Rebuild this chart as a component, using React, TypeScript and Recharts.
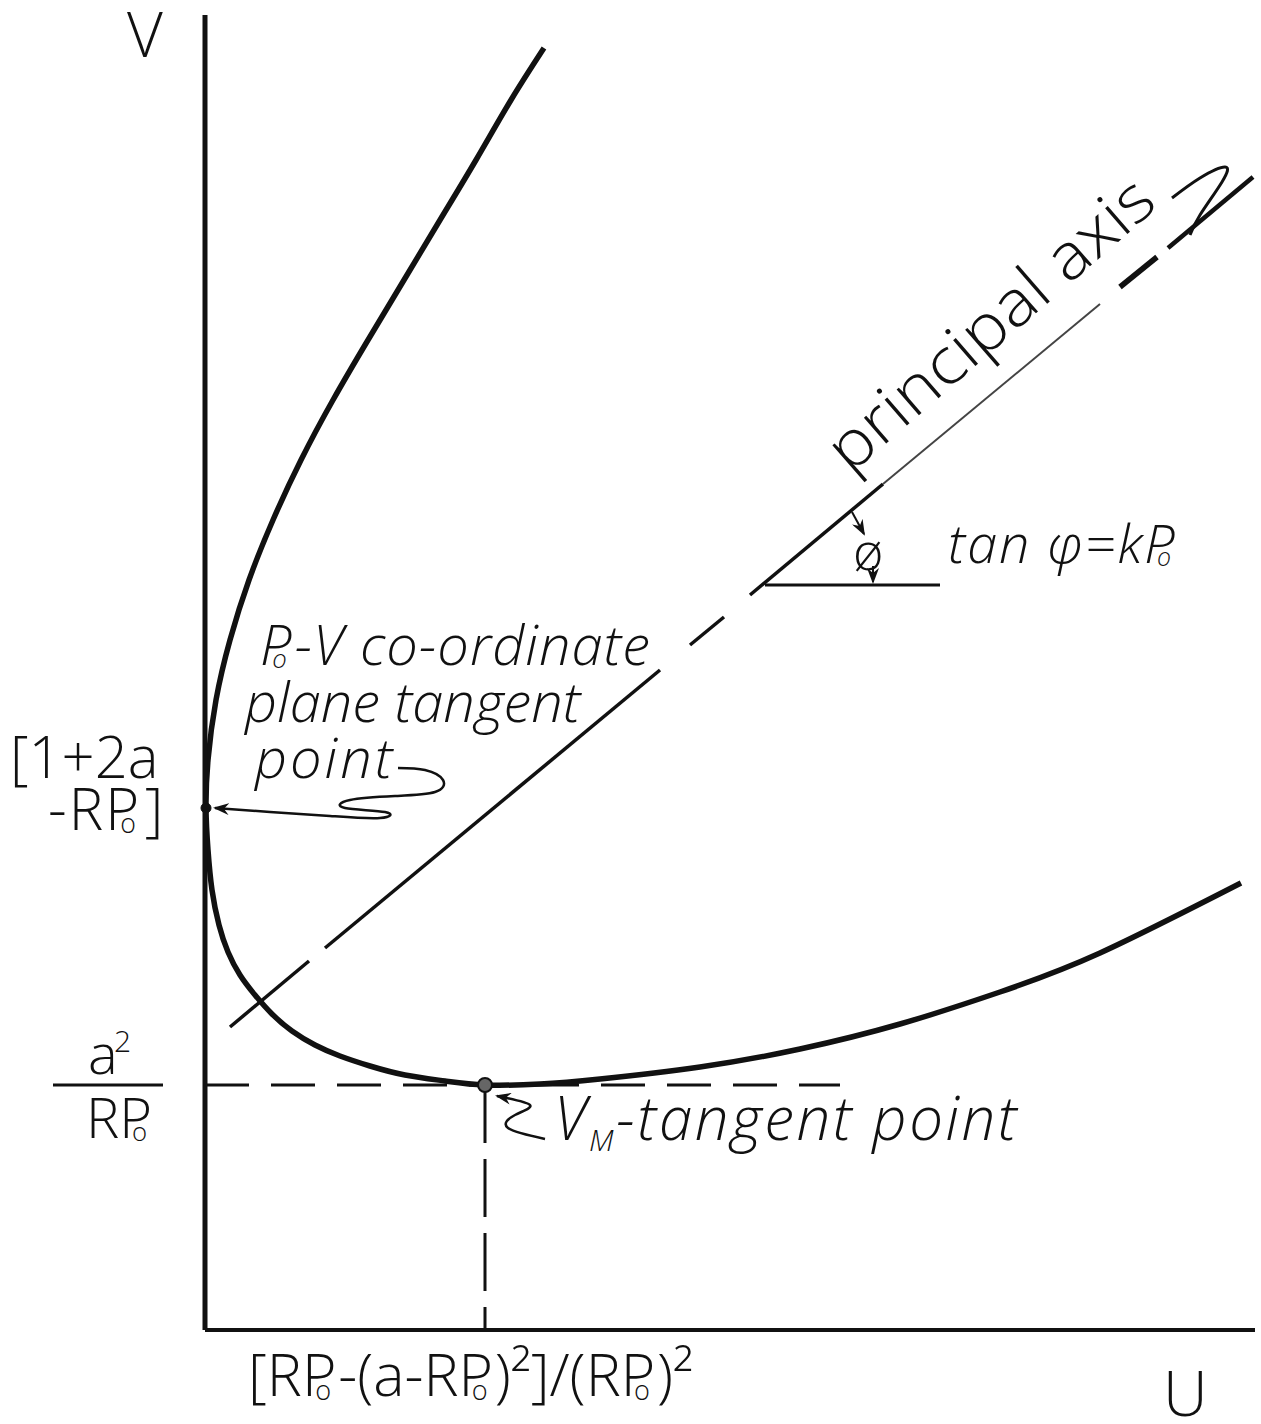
import { ComposedChart, Line, XAxis, YAxis, ReferenceDot } from 'recharts';

// plot units: U along the bottom, V up the side
const U_MAX = 10.5;
const V_MAX = 13.15;

// levels named on the axes
const V_MIN = 2.45;      // a²/RP₀, lowest point of the curve
const U_AT_VMIN = 2.8;   // [RP₀-(a-RP₀)²]/(RP₀)²
const V_TANGENT = 5.22;  // 1+2a-RP₀, where the curve touches the V axis
const U_TANGENT = 0.01;

// the tilted parabola, from the top of the upper arm round to the far end of the lower arm
const curveU = [3.39, 3.06, 2.71, 2.35, 1.99, 1.63, 1.28, 0.96, 0.68, 0.44, 0.25, 0.11, 0.03, U_TANGENT,
  0.03, 0.07, 0.14, 0.23, 0.35, 0.5, 0.67, 0.87, 1.1, 1.35, 1.65, 2.0, 2.4, U_AT_VMIN,
  3.35, 3.95, 4.95, 5.95, 6.95, 7.95, 8.95, 10.36];
const curveV = [12.82, 12.3, 11.7, 11.1, 10.5, 9.9, 9.3, 8.7, 8.1, 7.5, 6.9, 6.3, 5.7, V_TANGENT,
  4.8, 4.4, 4.05, 3.78, 3.55, 3.35, 3.16, 2.99, 2.85, 2.74, 2.64, 2.55, 2.49, V_MIN,
  2.46, 2.51, 2.63, 2.81, 3.06, 3.38, 3.77, 4.47];

// principal axis, drawn in broken pieces
const axisPieceU = [[0.25, 1.04], [1.2, 4.55], [4.85, 5.19], [5.45, 6.78], [6.78, 8.95], [9.15, 9.52], [9.63, 10.48]];
const axisPieceV = [[3.03, 3.69], [3.82, 6.6], [6.85, 7.13], [7.35, 8.46], [8.46, 10.26], [10.43, 10.73], [10.82, 11.53]];
const axisPieceWidth = [3.5, 3.5, 3.5, 3.5, 2, 5.5, 4.5];
const axisPieceInk = ['#111', '#111', '#111', '#111', '#444', '#111', '#111'];

// base line of the angle phi
const phiBaseU = [5.6, 7.35];
const phiBaseV = [7.45, 7.45];

// hand-drawn pointers
const tangentArrowU = [1.93, 2.2, 2.38, 2.3, 1.9, 1.45, 1.4, 1.8, 1.75, 1.25, 0.65, 0.1];
const tangentArrowV = [5.62, 5.6, 5.5, 5.38, 5.34, 5.3, 5.22, 5.18, 5.12, 5.14, 5.18, 5.22];
const minArrowU = [3.4, 3.03, 3.1, 3.25, 2.92];
const minArrowV = [1.91, 2.02, 2.15, 2.25, 2.34];
const phiArrowTopU = [6.47, 6.59];
const phiArrowTopV = [8.18, 7.96];
const phiArrowLowU = [6.68, 6.68];
const phiArrowLowV = [7.64, 7.48];
const axisHookU = [9.67, 9.95, 10.2, 10.17, 9.95, 9.85];
const axisHookV = [11.32, 11.52, 11.63, 11.48, 11.15, 10.95];

const INK = '#111';
const HAND = "'Open Sans', 'DejaVu Sans', sans-serif";

const pts = (us: number[], vs: number[]) => us.map((u, i) => ({ u, v: vs[i] }));

// writes text with every "P₀" lettered as a P with a small o tucked under its bowl
function lettering(text: string, fs: number) {
  const parts = text.split('P₀');
  const out: any[] = [];
  parts.forEach((part, i) => {
    if (i === 0) {
      if (part) out.push(<tspan key="s">{part}</tspan>);
      return;
    }
    out.push(<tspan key={'p' + i}>P</tspan>);
    out.push(<tspan key={'o' + i} dx={-0.36 * fs} dy={0.06 * fs} fontSize={0.46 * fs}>o</tspan>);
    if (part) out.push(<tspan key={'t' + i} dx={0.12 * fs} dy={-0.06 * fs}>{part}</tspan>);
  });
  return out;
}

function note(key: string, u: number, v: number, render: (x: number, y: number) => any) {
  return (
    <ReferenceDot
      key={key}
      x={u}
      y={v}
      r={0}
      ifOverflow="visible"
      label={{ content: (p: any) => render(p.viewBox.x, p.viewBox.y) }}
    />
  );
}

function VTick({ y, payload }: any) {
  if (payload.value === V_MIN) {
    return (
      <g fill={INK} fontFamily={HAND} fontWeight={300}>
        <text x={88} y={y - 11} fontSize={56}>a</text>
        <text x={114} y={y - 33} fontSize={30}>2</text>
        <line x1={53} x2={163} y1={y} y2={y} stroke={INK} strokeWidth={3} />
        <text x={86} y={y + 53} fontSize={56}>{lettering('RP₀', 56)}</text>
      </g>
    );
  }
  return (
    <g fill={INK} fontFamily={HAND} fontWeight={300}>
      <text x={10} y={y - 30} fontSize={58}>[1+2a</text>
      <text x={48} y={y + 22} fontSize={58} letterSpacing={2}>{lettering('-RP₀]', 58)}</text>
    </g>
  );
}

function UTick({ x, y }: any) {
  return (
    <text x={x - 237} y={y + 58} fontSize={59} fill={INK} fontFamily={HAND} fontWeight={300}>
      {lettering('[RP₀-(a-RP₀)²]/(RP₀)²', 59)}
    </text>
  );
}

export default function App() {
  const thin = { fill: INK, fontFamily: HAND, fontWeight: 300 } as const;
  return (
    <div style={{ position: 'absolute', left: 0, top: 0, width: 1261, height: 1424, background: '#fff' }}>
      <ComposedChart width={1261} height={1424} margin={{ top: 15, right: 6, bottom: 0, left: 0 }}>
        <defs>
          <marker id="tip" viewBox="0 0 16 12" markerWidth={16} markerHeight={12} refX={14} refY={6}
            markerUnits="userSpaceOnUse" orient="auto">
            <path d="M0,0 L16,6 L0,12 L5,6 z" fill={INK} />
          </marker>
        </defs>
        <XAxis type="number" dataKey="u" domain={[0, U_MAX]} allowDataOverflow ticks={[U_AT_VMIN]}
          tick={<UTick />} tickLine={false} height={94} axisLine={{ stroke: INK, strokeWidth: 4 }} />
        <YAxis type="number" domain={[0, V_MAX]} allowDataOverflow ticks={[V_MIN, V_TANGENT]}
          tick={<VTick />} tickLine={false} width={205} axisLine={{ stroke: INK, strokeWidth: 5 }} />

        {/* guides to the lowest point */}
        <Line data={pts([0, 6.35], [V_MIN, V_MIN])} dataKey="v" stroke={INK} strokeWidth={3}
          strokeDasharray="44 22" dot={false} activeDot={false} isAnimationActive={false} />
        <Line data={pts([U_AT_VMIN, U_AT_VMIN], [V_MIN, 0])} dataKey="v" stroke={INK} strokeWidth={3}
          strokeDasharray="58 16" dot={false} activeDot={false} isAnimationActive={false} />

        {axisPieceU.map((us, i) => (
          <Line key={'ax' + i} data={pts(us, axisPieceV[i])} dataKey="v" stroke={axisPieceInk[i]}
            strokeWidth={axisPieceWidth[i]} dot={false} activeDot={false} isAnimationActive={false} />
        ))}
        <Line data={pts(phiBaseU, phiBaseV)} dataKey="v" stroke={INK} strokeWidth={3}
          dot={false} activeDot={false} isAnimationActive={false} />

        <Line data={pts(curveU, curveV)} dataKey="v" type="natural" stroke={INK} strokeWidth={5.5}
          dot={false} activeDot={false} isAnimationActive={false} />

        {/* pointers */}
        <Line data={pts(tangentArrowU, tangentArrowV)} dataKey="v" type="natural" stroke={INK} strokeWidth={2.5}
          markerEnd="url(#tip)" dot={false} activeDot={false} isAnimationActive={false} />
        <Line data={pts(minArrowU, minArrowV)} dataKey="v" type="natural" stroke={INK} strokeWidth={2.5}
          markerEnd="url(#tip)" dot={false} activeDot={false} isAnimationActive={false} />
        <Line data={pts(phiArrowTopU, phiArrowTopV)} dataKey="v" stroke={INK} strokeWidth={2}
          markerEnd="url(#tip)" dot={false} activeDot={false} isAnimationActive={false} />
        <Line data={pts(phiArrowLowU, phiArrowLowV)} dataKey="v" stroke={INK} strokeWidth={2}
          markerEnd="url(#tip)" dot={false} activeDot={false} isAnimationActive={false} />
        <Line data={pts(axisHookU, axisHookV)} dataKey="v" type="natural" stroke={INK} strokeWidth={3}
          dot={false} activeDot={false} isAnimationActive={false} />

        <ReferenceDot x={U_TANGENT} y={V_TANGENT} r={5} fill={INK} stroke={INK} />
        <ReferenceDot x={U_AT_VMIN} y={V_MIN} r={7} fill="#666" stroke={INK} strokeWidth={2} />

        {note('V', -0.78, 12.73, (x, y) => <text x={x} y={y} fontSize={62} {...thin}>V</text>)}
        {note('U', 9.58, -0.86, (x, y) => <text x={x} y={y} fontSize={62} {...thin}>U</text>)}
        {note('pv1', 0.55, 6.65, (x, y) => (
          <text x={x} y={y} fontSize={56} letterSpacing={1} fontStyle="italic" {...thin}>
            {lettering('P₀-V co-ordinate', 56)}
          </text>
        ))}
        {note('pv2', 0.4, 6.08, (x, y) => (
          <text x={x} y={y} fontSize={56} fontStyle="italic" {...thin}>plane tangent</text>
        ))}
        {note('pv3', 0.5, 5.52, (x, y) => (
          <text x={x} y={y} fontSize={56} letterSpacing={3} fontStyle="italic" {...thin}>point</text>
        ))}
        {note('vm', 3.49, 1.9, (x, y) => (
          <text x={x} y={y} fontSize={60} letterSpacing={2.5} fontStyle="italic" {...thin}>
            <tspan>V</tspan>
            <tspan fontSize={30} dy={11}>M</tspan>
            <tspan dy={-11}>-tangent point</tspan>
          </text>
        ))}
        {note('phi', 6.48, 7.6, (x, y) => <text x={x} y={y} fontSize={52} {...thin}>ø</text>)}
        {note('tan', 7.43, 7.67, (x, y) => (
          <text x={x} y={y} fontSize={54} letterSpacing={2} fontStyle="italic" {...thin}>
            {lettering('tan φ=kP₀', 54)}
          </text>
        ))}
        {note('pa', 6.45, 8.55, (x, y) => (
          <text x={x} y={y} fontSize={64} textLength={410} lengthAdjust="spacingAndGlyphs"
            transform={`rotate(-41 ${x} ${y})`} {...thin}>principal axis</text>
        ))}
      </ComposedChart>
    </div>
  );
}
